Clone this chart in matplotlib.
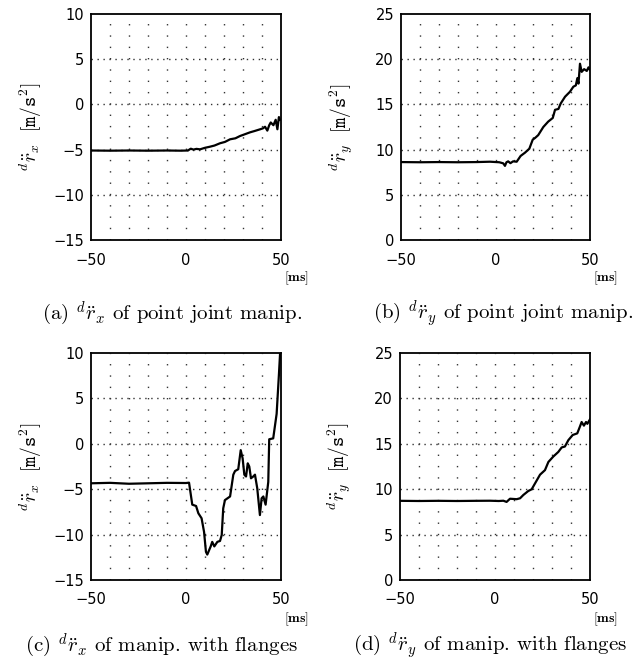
"""Fire paneler: ønsket akselerasjon d r̈x / d r̈y for punktledd- og flens-manipulator."""

import matplotlib
matplotlib.use("Agg")
import matplotlib.pyplot as plt

plt.rcParams["mathtext.fontset"] = "cm"
plt.rcParams["font.family"] = "DejaVu Sans"

# ── Data ────────────────────────────────────────────────────────────────────
# (a) d r̈x, punktledd
t_a = [-50, -40, -30, -20, -10, -3, 1, 2.5, 3.9, 5.5, 7.4, 10, 12.6, 15, 17.9,
       20.5, 23.2, 26, 28.4, 31, 33.7, 36, 38.9, 40.5, 41.6, 42.8, 43.8, 44.6,
       46, 47.2, 48.1, 48.9, 49.5]
rx_a = [-5.1, -5.12, -5.1, -5.12, -5.1, -5.12, -5.1, -4.9, -5.0, -4.92, -4.97,
        -4.8, -4.68, -4.55, -4.3, -4.15, -3.86, -3.75, -3.5, -3.3, -3.09, -2.95,
        -2.76, -2.65, -2.47, -2.9, -2.3, -2.0, -2.3, -1.7, -2.75, -1.4, -1.7]

# (b) d r̈y, punktledd
t_b = [-50, -40, -30, -20, -10, -2.9, 2, 4.1, 5.0, 5.8, 6.7, 7.9, 9.3, 11.2,
       13.3, 15.6, 17.9, 19.7, 21, 22.6, 25.3, 27.9, 30.3, 31.5, 33.3, 34.5,
       36.8, 39.4, 41.2, 42.5, 43.3, 43.9, 44.7, 45.6, 46.9, 48.3, 49.2, 50]
ry_b = [8.62, 8.6, 8.62, 8.6, 8.62, 8.66, 8.6, 8.48, 8.2, 8.6, 8.7, 8.5, 8.7,
        8.66, 9.3, 9.66, 10.1, 11.1, 11.3, 11.6, 12.5, 13.1, 13.5, 14.4, 14.5,
        15.1, 15.85, 16.4, 16.96, 17.1, 17.9, 17.3, 19.5, 18.6, 18.9, 18.7,
        19.1, 18.8]

# (c) d r̈x, manipulator med flenser
t_c = [-50, -40, -30, -20, -10, 0, 1.6, 3.3, 5.3, 6.5, 8.2, 9.5, 10.5, 11.2,
       13.0, 13.8, 14.9, 16.5, 17.9, 18.8, 19.6, 20.5, 23.2, 24.9, 25.8, 27.5,
       28.8, 29.8, 30.7, 31.6, 32.5, 33.3, 34.2, 35.4, 36.3, 37.5, 38.9, 39.8,
       40.7, 41.9, 43.3, 43.8, 45.9, 47.7, 48.9, 49.6]
rx_c = [-4.35, -4.3, -4.4, -4.35, -4.3, -4.32, -4.28, -6.7, -6.85, -7.65, -8.2,
        -9.7, -11.9, -12.2, -11.3, -10.8, -11.3, -10.8, -10.7, -10.05, -7.1,
        -6.2, -5.8, -3.4, -3.0, -2.8, -0.7, -1.6, -3.4, -3.6, -2.15, -2.5, -3.8,
        -3.6, -3.4, -4.9, -7.85, -6.0, -5.8, -6.7, -4.2, 0.5, 0.6, 3.3, 7.6,
        10.3]

# (d) d r̈y, manipulator med flenser
t_d = [-50, -40, -30, -20, -10, -2.6, 2, 4.4, 6.1, 7.9, 11.4, 13.2, 14.9, 17.5,
       19.3, 21.1, 23.7, 26.3, 28.1, 30.7, 33.3, 35.1, 36.8, 38.6, 40.9, 43.3,
       44.7, 45.6, 46.8, 47.9, 48.6, 50]
ry_d = [8.72, 8.7, 8.72, 8.7, 8.72, 8.73, 8.7, 8.73, 8.6, 8.95, 8.9, 9.0, 9.36,
        9.8, 9.99, 10.65, 11.6, 12.1, 13.0, 13.6, 14.1, 14.6, 14.7, 15.4,
        15.97, 16.15, 16.9, 17.4, 17.0, 17.4, 17.2, 17.7]

YLIM_X = (-15, 10)
YLIM_Y = (0, 25)
YTICKS_X = [-15, -10, -5, 0, 5, 10]
YTICKS_Y = [0, 5, 10, 15, 20, 25]
XTICKS = [-50, 0, 50]
GRID_X = [-40, -30, -20, -10, 0, 10, 20, 30, 40]

YLAB_X = r"$^{d}\ddot{r}_{x}\ \ \mathtt{[m/s^{2}]}$"
YLAB_Y = r"$^{d}\ddot{r}_{y}\ \ \mathtt{[m/s^{2}]}$"
CAPTIONS = [
    r"(a) $^{d}\ddot{r}_{x}$ of point joint manip.",
    r"(b) $^{d}\ddot{r}_{y}$ of point joint manip.",
    r"(c) $^{d}\ddot{r}_{x}$ of manip. with flanges",
    r"(d) $^{d}\ddot{r}_{y}$ of manip. with flanges",
]

W, H = 642, 664
fig = plt.figure(figsize=(W / 100, H / 100), dpi=100)


def px_axes(left, top, right, bottom):
    return fig.add_axes([left / W, 1 - bottom / H, (right - left) / W, (bottom - top) / H])


panels = [
    ((91, 14, 281, 240), t_a, rx_a, YLIM_X, YTICKS_X, YLAB_X),
    ((401, 14, 590, 240), t_b, ry_b, YLIM_Y, YTICKS_Y, YLAB_Y),
    ((91, 353, 281, 580), t_c, rx_c, YLIM_X, YTICKS_X, YLAB_X),
    ((400, 353, 590, 580), t_d, ry_d, YLIM_Y, YTICKS_Y, YLAB_Y),
]
cap_pos = [(172, 314), (503, 314), (162, 646), (490, 646)]
ms_pos = [(297, 278), (606, 278), (297, 619), (606, 619)]

for (box, t, v, ylim, yticks, ylab), mp in zip(panels, ms_pos):
    ax = px_axes(*box)
    ax.set_xlim(-50, 50)
    ax.set_ylim(*ylim)
    # prikk-rutenett
    for gx in GRID_X:
        ax.axvline(gx, color="0.2", lw=1.0, ls=(0, (1, 7.15)), zorder=1)
    for gy in yticks[1:-1]:
        ax.axhline(gy, color="0.2", lw=1.0, ls=(0, (1, 3.3)), zorder=1)
    ax.plot(t, v, color="black", lw=1.6, zorder=3)
    ax.set_xticks(XTICKS)
    ax.set_yticks(yticks)
    ax.tick_params(length=0, labelsize=10.5)
    ax.tick_params(axis="x", pad=9)
    ax.tick_params(axis="y", pad=5)
    for sp in ax.spines.values():
        sp.set_linewidth(1.3)
    ax.set_ylabel(ylab, fontsize=14)
    ax.yaxis.set_label_coords(-0.245, 0.5)
    fig.text(mp[0] / W, 1 - mp[1] / H, r"$\mathbf{[ms]}$", fontsize=10,
             ha="center", va="center")

for (cx, cy), cap in zip(cap_pos, CAPTIONS):
    fig.text(cx / W, 1 - cy / H, cap, fontsize=15, family="cmr10",
             ha="center", va="center")

fig.savefig("out.png", dpi=100)
